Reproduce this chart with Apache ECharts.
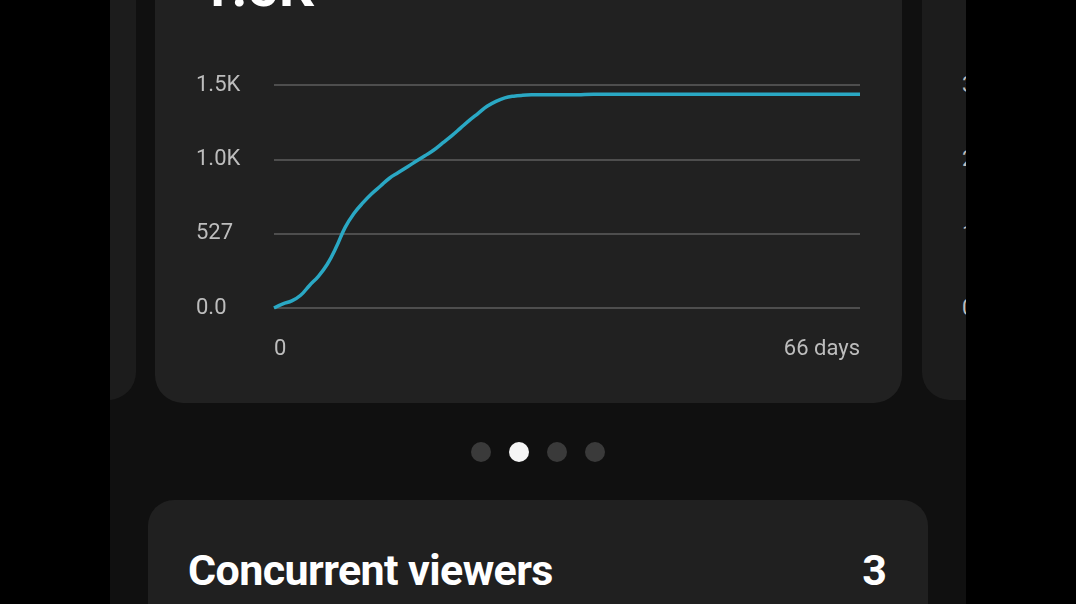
<!DOCTYPE html>
<html>
<head>
<meta charset="utf-8">
<script src="https://cdn.jsdelivr.net/npm/echarts@6/dist/echarts.min.js"></script>
<style>
  html, body { margin: 0; padding: 0; background: #000; width: 1076px; height: 604px; overflow: hidden; font-family: Roboto, "Noto Sans", sans-serif; }
  #phone { position: absolute; left: 110px; top: 0; width: 856px; height: 604px; background: #101010; overflow: hidden; }
  .card { position: absolute; background: #212121; border-radius: 28px; }
  #mainCard { left: 45px; top: -60px; width: 747px; height: 463px; }
  #leftCard { left: -40px; top: -60px; width: 66px; height: 460px; background: #1c1c1c; }
  #rightCard { left: 812px; top: -60px; width: 100px; height: 460px; background: #1c1c1c; }
  #bottomCard { left: 38px; top: 500px; width: 780px; height: 200px; border-radius: 26px; background: #202020; }
  #bigValue { position: absolute; left: 90px; top: -45px; color: #fff; font-size: 55px; font-weight: 700; }
  .rlab { position: absolute; left: 852px; color: #bdbdbd; font-size: 22px; }
  .dot { position: absolute; top: 442px; width: 20px; height: 20px; border-radius: 50%; background: #3a3a3a; }
  #cvTitle { position: absolute; left: 78px; top: 545px; color: #fff; font-size: 43px; font-weight: 700; letter-spacing: -0.6px; }
  #cvValue { position: absolute; right: 79px; top: 545px; color: #fff; font-size: 43px; font-weight: 700; }
  #chart { position: absolute; left: 0; top: 0; width: 1076px; height: 604px; }
</style>
</head>
<body>
<div id="phone">
  <div class="card" id="leftCard"></div>
  <div class="card" id="mainCard"></div>
  <div class="card" id="rightCard"></div>
  <div id="bigValue">1.5K</div>
  <div class="rlab" style="top:72px">3</div>
  <div class="rlab" style="top:146px">2</div>
  <div class="rlab" style="top:221px">1</div>
  <div class="rlab" style="top:295px">0</div>
  <div class="dot" style="left:361px"></div>
  <div class="dot" style="left:399px; background:#f5f5f5"></div>
  <div class="dot" style="left:437px"></div>
  <div class="dot" style="left:475px"></div>
  <div class="card" id="bottomCard"></div>
  <div id="cvTitle">Concurrent viewers</div>
  <div id="cvValue">3</div>
</div>
<div id="chart"></div>
<script>
  // 天数 0..66
  const days = [];
  for (let i = 0; i <= 66; i++) days.push(i);
  // 累计观看量
  const views = [
    0, 30, 50, 90, 160, 225, 310, 430, 570, 670,
    745, 810, 865, 920, 960, 1000, 1040, 1080, 1120, 1170,
    1220, 1275, 1330, 1380, 1430, 1465, 1490, 1502, 1508, 1511,
    1512, 1512, 1511, 1511, 1511, 1514, 1515, 1515, 1515, 1515,
    1515, 1515, 1515, 1515, 1515, 1515, 1515, 1515, 1515, 1515,
    1515, 1515, 1515, 1515, 1515, 1515, 1515, 1515, 1515, 1515,
    1515, 1515, 1515, 1515, 1515, 1515, 1515
  ];
  const yTicks = [0, 527, 1054, 1581];
  const yLabels = ['0.0', '527', '1.0K', '1.5K'];
  const xLabels = ['0', '66 days'];

  const chart = echarts.init(document.getElementById('chart'));
  const option = {
    backgroundColor: 'transparent',
    animation: false,
    grid: { left: 274, right: 216, top: 85, bottom: 296 },
    xAxis: {
      type: 'value',
      min: 0,
      max: 66,
      interval: 66,
      axisLine: { show: false },
      axisTick: { show: false },
      splitLine: { show: false },
      axisLabel: {
        color: '#bdbdbd',
        fontSize: 22,
        fontFamily: 'Roboto',
        margin: 30,
        alignMinLabel: 'left',
        alignMaxLabel: 'right',
        formatter: function (v) { return v === 0 ? xLabels[0] : xLabels[1]; }
      }
    },
    yAxis: {
      type: 'value',
      min: 0,
      max: yTicks[3],
      interval: 527,
      axisLine: { show: false },
      axisTick: { show: false },
      splitLine: { lineStyle: { color: '#4e4e4e', width: 2 } },
      axisLabel: {
        color: '#bdbdbd',
        fontSize: 22,
        fontFamily: 'Roboto',
        align: 'left',
        margin: 78,
        formatter: function (v) { return yLabels[Math.round(v / 527)]; }
      }
    },
    series: [{
      type: 'line',
      data: days.map((d, i) => [d, views[i]]),
      smooth: 0.4,
      showSymbol: false,
      lineStyle: { color: '#2aa8c4', width: 3.5 }
    }]
  };
  chart.setOption(option);
</script>
</body>
</html>
